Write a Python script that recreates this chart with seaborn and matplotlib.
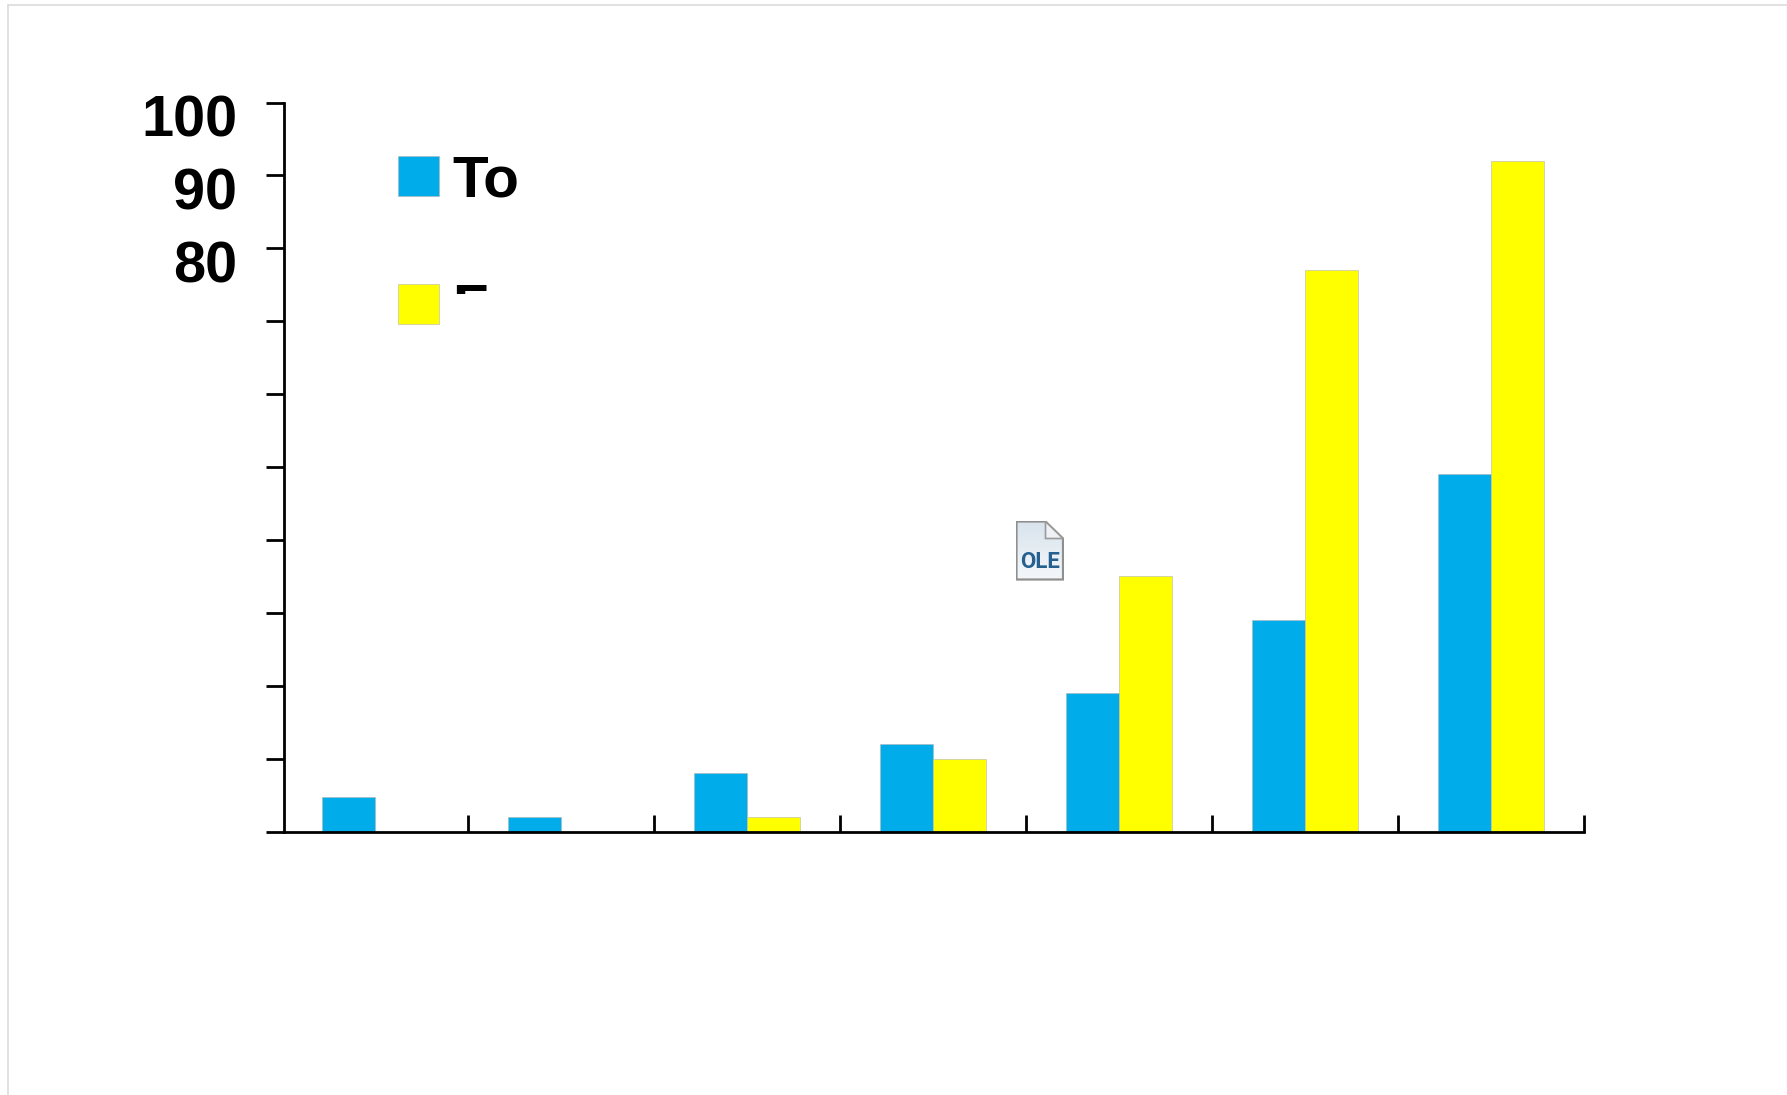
import numpy as np
import pandas as pd
import matplotlib
matplotlib.use("Agg")
import matplotlib.pyplot as plt
from matplotlib.lines import Line2D
from matplotlib.patches import Polygon
from matplotlib.transforms import Bbox, ScaledTranslation
import seaborn as sns

groups = ["1", "2", "3", "4", "5", "6", "7"]
series_names = ["To", "F"]
blue_values = [4.8, 2.0, 8.0, 12.0, 19.0, 29.0, 49.0]
yellow_values = [0.0, 0.0, 2.0, 10.0, 35.0, 77.0, 92.0]
y_tick_values = [0, 10, 20, 30, 40, 50, 60, 70, 80, 90, 100]
y_tick_labels = ["", "", "", "", "", "", "", "", "80", "90", "100"]

BLUE = "#00ADEA"
YELLOW = "#FFFF00"

W, H = 1787, 1095
sns.set_theme(style="white")
plt.rcParams["font.family"] = ["Liberation Sans", "DejaVu Sans"]

df = pd.DataFrame({
    "group": groups * 2,
    "value": blue_values + yellow_values,
    "series": [series_names[0]] * 7 + [series_names[1]] * 7,
})

fig = plt.figure(figsize=(W / 100, H / 100), dpi=100, facecolor="white")
L, R, T, B = 284.4, 1584.0, 102.6, 831.5
ax = fig.add_axes([L / W, 1 - B / H, (R - L) / W, (B - T) / H])

sns.barplot(data=df, x="group", y="value", hue="series", order=groups,
            hue_order=series_names, palette=[BLUE, YELLOW], width=0.574,
            gap=0, edgecolor="#b4b4b4", linewidth=0.4, errorbar=None,
            saturation=1, ax=ax)

ax.set_xlim(-0.487, 6.5)
ax.set_ylim(0, 100)
ax.set_xlabel("")
ax.set_ylabel("")
ax.set_facecolor("white")
for side in ("top", "right"):
    ax.spines[side].set_visible(False)
for side in ("left", "bottom"):
    ax.spines[side].set_color("black")
    ax.spines[side].set_linewidth(2.0)

ax.set_xticks(np.arange(0.5, 7.0, 1.0))
ax.set_xticklabels([""] * 7)
ax.tick_params(axis="x", direction="in", length=12.5, width=2.0, color="black",
               bottom=True)
ax.set_yticks(y_tick_values)
ax.set_yticklabels(y_tick_labels, fontsize=41.5, fontweight="bold", color="black")
ax.tick_params(axis="y", direction="out", length=13, width=2.0, color="black",
               pad=21, left=True)
shift = ScaledTranslation(0, -13 / 100, fig.dpi_scale_trans)
for lab in ax.get_yticklabels():
    lab.set_transform(lab.get_transform() + shift)

sns.move_legend(ax, "upper left",
                bbox_to_anchor=(398 / W, 1 - 154.5 / H),
                bbox_transform=fig.transFigure,
                frameon=False, title=None, ncol=1,
                prop={"size": 42, "weight": "bold"},
                labelcolor="black",
                handlelength=0.71, handleheight=0.69, handletextpad=0.22,
                labelspacing=1.27, borderpad=0, borderaxespad=0)
leg = ax.get_legend()
clipped = leg.get_texts()[1]
clipped.set_clip_box(Bbox([[0, H - 294], [W, H]]))
clipped.set_clip_on(True)

# page frame
frame = "#dcdcdc"
fig.add_artist(Line2D([8 / W, 8 / W], [0, 1 - 5 / H], color=frame, lw=1.2))
fig.add_artist(Line2D([8 / W, 1], [1 - 5 / H, 1 - 5 / H], color=frame, lw=1.2))

# OLE placeholder icon
ix0, iy0, iw, ih = 1015.5, 520.5, 48.5, 60.0
icon = fig.add_axes([ix0 / W, 1 - (iy0 + ih) / H, iw / W, ih / H])
icon.set_xlim(0, iw)
icon.set_ylim(ih, 0)
icon.axis("off")
outline = [(1, 1), (30, 1), (47.5, 18), (47.5, 59), (1, 59)]
grad = np.linspace(0, 1, 64).reshape(-1, 1)
img = icon.imshow(grad, extent=(0, iw, ih, 0), aspect="auto", vmin=0, vmax=1,
                  cmap=matplotlib.colors.LinearSegmentedColormap.from_list(
                      "ole", ["#d8e3ec", "#f4f8fb"]))
body = Polygon(outline, closed=True, fill=False, edgecolor="#8f8f8f", lw=1.6)
icon.add_patch(body)
img.set_clip_path(body)
icon.add_patch(Polygon([(30, 1), (47.5, 18), (30, 18)], closed=True,
                       facecolor="#eef2f6", edgecolor="#9a9a9a", lw=1.2))
icon.text(24.5, 42, "OLE", color="#25608f", fontsize=16, fontweight="bold",
          family=["Roboto", "DejaVu Sans"], ha="center", va="center")

fig.savefig("out.png", dpi=100, facecolor="white")
